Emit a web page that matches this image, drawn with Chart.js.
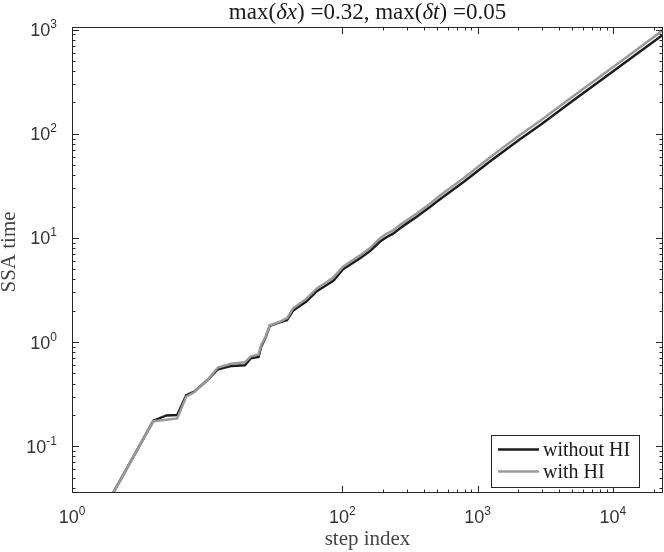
<!DOCTYPE html>
<html>
<head>
<meta charset="utf-8">
<script src="https://cdn.jsdelivr.net/npm/chart.js@4/dist/chart.umd.min.js"></script>
<style>
  body { margin: 0; background: #fff; }
  canvas { display: block; }
</style>
</head>
<body>
<canvas id="ssaChart" width="664" height="552"></canvas>
<script>
// --- data ---
const stepIndex = [2, 3, 4, 5, 6, 7, 8, 10, 12, 15, 19, 21, 24, 25, 27, 29, 34, 39, 43, 54, 65, 77, 86, 101,
    135, 160, 189, 210, 237, 270, 300, 350, 444, 527, 800, 1225, 2042, 2940, 5000, 10000, 15000, 23500];
const timeWithoutHI = [0.035, 0.09, 0.176, 0.198, 0.2, 0.31, 0.335, 0.43, 0.55, 0.59, 0.6, 0.7, 0.72, 0.9, 1.1, 1.43, 1.54, 1.63, 2.0, 2.45, 3.1, 3.55, 3.9, 5.0,
    6.4, 7.5, 9.2, 10.1, 11.0, 12.5, 13.8, 15.8, 19.8, 23.5, 35, 54, 88, 123, 205, 396, 583, 895];
const timeWithHI = [0.035, 0.09, 0.174, 0.18, 0.185, 0.3, 0.33, 0.43, 0.57, 0.62, 0.64, 0.73, 0.76, 0.93, 1.12, 1.45, 1.56, 1.7, 2.1, 2.6, 3.3, 3.8, 4.2, 5.3,
    6.8, 8.0, 9.9, 10.9, 11.8, 13.5, 14.8, 17.0, 21.3, 25.5, 38, 59, 97, 135, 225, 435, 640, 990];

// tick labels are 10^exp
const xTickExps = [0, 2, 3, 4];
const yTickExps = [-1, 0, 1, 2, 3];
// decades that get minor ticks (2..9 x 10^d)
const xMinorDecades = [2, 3, 4];
const yMinorDecades = [-2, -1, 0, 1, 2];

const SERIF = '"Liberation Serif", "DejaVu Serif", serif';
const SANS = '"Liberation Sans", Arial, sans-serif';

// --- draws the matlab-style box, ticks, labels, title and legend ---
const matlabAxes = {
    id: 'matlabAxes',
    afterDatasetsDraw(chart) {
        const { ctx, chartArea: a, scales } = chart;
        const xs = scales.x, ys = scales.y;
        const majorLen = 7, minorLen = 3.5;
        ctx.save();
        ctx.strokeStyle = '#262626';
        ctx.lineWidth = 1;

        const inX = v => v >= xs.min && v <= xs.max;
        const inY = v => v >= ys.min && v <= ys.max;

        const xTick = (v, len) => {
            const px = Math.round(xs.getPixelForValue(v)) + 0.5;
            ctx.beginPath();
            ctx.moveTo(px, a.bottom); ctx.lineTo(px, a.bottom - len);
            ctx.moveTo(px, a.top); ctx.lineTo(px, a.top + len);
            ctx.stroke();
        };
        const yTick = (v, len) => {
            const py = Math.round(ys.getPixelForValue(v)) + 0.5;
            ctx.beginPath();
            ctx.moveTo(a.left, py); ctx.lineTo(a.left + len, py);
            ctx.moveTo(a.right, py); ctx.lineTo(a.right - len, py);
            ctx.stroke();
        };

        xMinorDecades.forEach(d => {
            for (let m = 2; m <= 9; m++) { const v = m * Math.pow(10, d); if (inX(v)) xTick(v, minorLen); }
        });
        yMinorDecades.forEach(d => {
            for (let m = 2; m <= 9; m++) { const v = m * Math.pow(10, d); if (inY(v)) yTick(v, minorLen); }
        });
        xTickExps.forEach(e => xTick(Math.pow(10, e), majorLen));
        yTickExps.forEach(e => yTick(Math.pow(10, e), majorLen));

        // box
        ctx.strokeRect(a.left + 0.5, a.top + 0.5, a.width - 1, a.height - 1);

        // tick labels
        ctx.fillStyle = '#333';
        const baseFont = '18px ' + SANS, expFont = '12px ' + SANS;
        const measure = (t, f) => { ctx.font = f; return ctx.measureText(t).width; };

        xTickExps.forEach(e => {
            const px = xs.getPixelForValue(Math.pow(10, e));
            const bw = measure('10', baseFont), ew = measure(String(e), expFont);
            const x0 = px - (bw + ew) / 2;
            ctx.textAlign = 'left'; ctx.textBaseline = 'alphabetic';
            ctx.font = baseFont; ctx.fillText('10', x0, 523);
            ctx.font = expFont; ctx.fillText(String(e), x0 + bw, 515);
        });
        yTickExps.forEach(e => {
            const py = ys.getPixelForValue(Math.pow(10, e));
            const label = e < 0 ? '-' + Math.abs(e) : String(e);
            const bw = measure('10', baseFont), ew = measure(label, expFont);
            const right = 57;
            ctx.textAlign = 'left'; ctx.textBaseline = 'alphabetic';
            ctx.font = baseFont; ctx.fillText('10', right - ew - bw, py + 6.5);
            ctx.font = expFont; ctx.fillText(label, right - ew, py - 1.5);
        });

        // axis labels
        ctx.fillStyle = '#444';
        ctx.font = '21px ' + SERIF;
        ctx.textAlign = 'center';
        ctx.fillText('step index', (a.left + a.right) / 2, 545);
        ctx.save();
        ctx.translate(15, 252);
        ctx.rotate(-Math.PI / 2);
        ctx.fillText('SSA time', 0, 0);
        ctx.restore();

        // title with italic symbols
        const runs = [
            ['max(', false], ['\u03B4x', true], [') =0.32, max(', false], ['\u03B4t', true], [') =0.05', false]
        ];
        const tf = it => (it ? 'italic ' : '') + '23px ' + SERIF;
        const total = runs.reduce((s, r) => s + measure(r[0], tf(r[1])), 0);
        let tx = (a.left + a.right) / 2 - total / 2;
        ctx.fillStyle = '#1a1a1a';
        ctx.textAlign = 'left';
        runs.forEach(([t, it]) => {
            ctx.font = tf(it);
            ctx.fillText(t, tx, 19);
            tx += ctx.measureText(t).width;
        });

        // legend box in the lower right
        const lg = { left: 491, top: 435, right: 639, bottom: 487 };
        ctx.fillStyle = '#fff';
        ctx.fillRect(lg.left, lg.top, lg.right - lg.left, lg.bottom - lg.top);
        ctx.strokeStyle = '#262626';
        ctx.strokeRect(lg.left + 0.5, lg.top + 0.5, lg.right - lg.left, lg.bottom - lg.top);
        const rows = [449.5, 471.5];
        chart.data.datasets.forEach((ds, i) => {
            ctx.strokeStyle = ds.borderColor;
            ctx.lineWidth = ds.borderWidth;
            ctx.beginPath();
            ctx.moveTo(498, rows[i]); ctx.lineTo(539, rows[i]);
            ctx.stroke();
            ctx.fillStyle = '#1a1a1a';
            ctx.font = '20px ' + SERIF;
            ctx.textBaseline = 'middle';
            ctx.fillText(ds.label, 543, rows[i] + 1);
        });
        ctx.restore();
    }
};

const ctx = document.getElementById('ssaChart').getContext('2d');
new Chart(ctx, {
    type: 'line',
    data: {
        datasets: [{
            label: 'without HI',
            data: stepIndex.map((s, i) => ({ x: s, y: timeWithoutHI[i] })),
            borderColor: '#1c1c1c',
            borderWidth: 2.5,
            pointRadius: 0,
            tension: 0,
            clip: 0,
            order: 1
        }, {
            label: 'with HI',
            data: stepIndex.map((s, i) => ({ x: s, y: timeWithHI[i] })),
            borderColor: '#9a9a9a',
            borderWidth: 2.5,
            pointRadius: 0,
            tension: 0,
            clip: 0,
            order: 0
        }]
    },
    options: {
        responsive: false,
        animation: false,
        layout: { padding: { left: 72, top: 27, right: 1, bottom: 59 } },
        scales: {
            x: { type: 'logarithmic', display: false, min: 1, max: 23500 },
            y: { type: 'logarithmic', display: false, min: 0.0356, max: 1060 }
        },
        plugins: {
            legend: { display: false },
            tooltip: { enabled: false }
        }
    },
    plugins: [matlabAxes]
});
</script>
</body>
</html>
